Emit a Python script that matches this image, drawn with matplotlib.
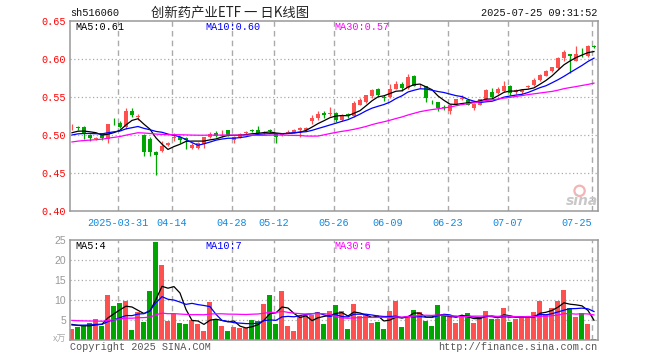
import numpy as np
import matplotlib
matplotlib.use('Agg')
import matplotlib.pyplot as plt

# ---------------- data ----------------
opens = [0.510, 0.510, 0.511, 0.500, 0.495, 0.502, 0.495, 0.515, 0.516, 0.511,
         0.531, 0.524, 0.500, 0.495, 0.478, 0.479, 0.487, 0.496, 0.497, 0.496,
         0.483, 0.483, 0.488, 0.497, 0.503, 0.499, 0.506, 0.493, 0.497, 0.502,
         0.506, 0.506, 0.502, 0.506, 0.501, 0.500, 0.503, 0.504, 0.506, 0.507,
         0.518, 0.522, 0.529, 0.528, 0.529, 0.520, 0.527, 0.525, 0.540, 0.543,
         0.551, 0.561, 0.550, 0.550, 0.561, 0.567, 0.562, 0.578, 0.564, 0.564,
         0.544, 0.543, 0.537, 0.531, 0.540, 0.548, 0.546, 0.535, 0.540, 0.547,
         0.557, 0.555, 0.558, 0.565, 0.556, 0.556, 0.563, 0.566, 0.572, 0.578,
         0.584, 0.588, 0.601, 0.606, 0.598, 0.607, 0.604, 0.617]
highs = [0.515, 0.512, 0.512, 0.501, 0.498, 0.503, 0.515, 0.523, 0.518, 0.535,
         0.535, 0.528, 0.501, 0.497, 0.479, 0.492, 0.491, 0.503, 0.498, 0.498,
         0.489, 0.491, 0.498, 0.504, 0.505, 0.507, 0.507, 0.499, 0.502, 0.505,
         0.508, 0.512, 0.505, 0.508, 0.503, 0.503, 0.506, 0.508, 0.510, 0.510,
         0.526, 0.531, 0.531, 0.537, 0.530, 0.527, 0.529, 0.545, 0.549, 0.553,
         0.560, 0.562, 0.552, 0.567, 0.571, 0.570, 0.580, 0.579, 0.567, 0.565,
         0.546, 0.544, 0.539, 0.541, 0.548, 0.552, 0.548, 0.542, 0.548, 0.561,
         0.562, 0.563, 0.571, 0.566, 0.560, 0.560, 0.566, 0.575, 0.580, 0.585,
         0.590, 0.602, 0.612, 0.607, 0.617, 0.615, 0.618, 0.618]
lows = [0.507, 0.506, 0.495, 0.492, 0.493, 0.494, 0.490, 0.513, 0.509, 0.508,
        0.524, 0.520, 0.472, 0.472, 0.447, 0.477, 0.485, 0.492, 0.490, 0.481,
        0.482, 0.482, 0.483, 0.496, 0.498, 0.498, 0.499, 0.490, 0.496, 0.501,
        0.504, 0.502, 0.501, 0.503, 0.490, 0.499, 0.502, 0.503, 0.497, 0.505,
        0.515, 0.520, 0.522, 0.525, 0.517, 0.519, 0.523, 0.524, 0.539, 0.542,
        0.549, 0.551, 0.545, 0.549, 0.560, 0.558, 0.561, 0.564, 0.562, 0.543,
        0.541, 0.531, 0.533, 0.527, 0.539, 0.546, 0.539, 0.533, 0.539, 0.546,
        0.549, 0.554, 0.557, 0.552, 0.554, 0.554, 0.562, 0.565, 0.571, 0.577,
        0.583, 0.587, 0.598, 0.581, 0.597, 0.603, 0.603, 0.614]
closes = [0.511, 0.509, 0.503, 0.496, 0.496, 0.496, 0.514, 0.514, 0.511, 0.531,
          0.526, 0.525, 0.478, 0.478, 0.474, 0.485, 0.490, 0.497, 0.493, 0.493,
          0.487, 0.490, 0.497, 0.501, 0.499, 0.500, 0.500, 0.498, 0.501, 0.504,
          0.505, 0.503, 0.503, 0.505, 0.497, 0.501, 0.504, 0.507, 0.509, 0.509,
          0.523, 0.527, 0.526, 0.529, 0.520, 0.526, 0.526, 0.542, 0.546, 0.552,
          0.559, 0.552, 0.549, 0.561, 0.567, 0.562, 0.576, 0.565, 0.565, 0.549,
          0.543, 0.535, 0.536, 0.540, 0.547, 0.549, 0.540, 0.541, 0.547, 0.559,
          0.550, 0.561, 0.564, 0.555, 0.559, 0.559, 0.564, 0.573, 0.579, 0.584,
          0.589, 0.601, 0.609, 0.604, 0.606, 0.606, 0.617, 0.616]
volumes = [2.75, 3.25, 3.4, 4.25, 5.25, 3.5, 11.25, 8.5, 9.25, 9.75,
           2.5, 7.1, 4.5, 12.25, 24.5, 18.75, 4.75, 6.5, 4.25, 4.0,
           5.0, 4.0, 2.25, 9.5, 5.2, 3.5, 2.25, 3.3, 3.1, 2.9,
           5.0, 4.75, 9.0, 11.25, 4.0, 12.25, 3.5, 2.25, 6.0, 6.25,
           6.25, 7.0, 4.0, 7.25, 8.75, 7.25, 2.75, 9.0, 6.0, 6.25,
           4.25, 4.5, 2.75, 7.25, 9.75, 3.25, 6.0, 7.5, 7.0, 4.8,
           3.5, 8.75, 6.5, 5.7, 4.25, 5.8, 6.75, 4.25, 5.7, 7.25,
           5.25, 5.3, 8.0, 4.5, 5.25, 5.7, 5.7, 7.0, 9.75, 6.5,
           8.0, 9.75, 12.5, 8.0, 5.7, 6.75, 4.0, 0.25]
# sessions before the visible window (only used so the moving averages start at the left edge)
pre_closes = [0.476, 0.479, 0.481, 0.478, 0.475, 0.477, 0.480, 0.479, 0.476, 0.478,
              0.477, 0.490, 0.495, 0.499, 0.497, 0.500, 0.498, 0.496, 0.499, 0.495,
              0.494, 0.498, 0.496, 0.499, 0.498, 0.499, 0.502, 0.501, 0.502]
pre_volumes = [5.5, 4.8, 5.2, 5.0, 5.6, 4.8, 3.6, 3.2, 3.8, 3.0,
               3.5, 3.5, 8.5, 7.0, 6.5, 9.0, 6.0, 7.5, 6.5, 7.0,
               3.8, 3.2, 4.0, 3.5, 3.5, 4.5, 3.9, 4.2, 4.15]
date_idx = [8, 17, 27, 34, 44, 53, 63, 73, 87]
date_labels = ['2025-03-31', '04-14', '04-28', '05-12', '05-26', '06-09', '06-23', '07-07', '07-25']
price_ticks = [0.40, 0.45, 0.50, 0.55, 0.60, 0.65]
vol_ticks = [5, 10, 15, 20, 25]
ma_periods = [5, 10, 30]
ma_colors = ['#000000', '#0000ff', '#ff00ff']

# ---------------- helpers ----------------
W, H = 660, 360
MONO = 'Liberation Mono'
CJK = ['Noto Sans CJK SC', 'DejaVu Sans']
RED = '#ff5050'
GREEN = '#00a600'
GRID = '#aaaaaa'


def rect(l, t, r, b):
    return [l / W, 1 - b / H, (r - l) / W, (b - t) / H]


def ftext(x, y, s, **kw):
    fig.text(x / W, 1 - y / H, s, **kw)


def moving_avg(pre, vals, n):
    full = np.array(list(pre) + list(vals), dtype=float)
    out = np.convolve(full, np.ones(n) / n, mode='valid')
    return out[len(pre) - n + 1:]


o = np.array(opens); h = np.array(highs); lo = np.array(lows); c = np.array(closes)
v = np.array(volumes)
x = np.arange(len(c))
up = c >= o
cols = np.where(up, RED, GREEN)

fig = plt.figure(figsize=(W / 100, H / 100), dpi=100)
fig.patch.set_facecolor('white')
axp = fig.add_axes(rect(70, 21, 598, 211))
axv = fig.add_axes(rect(70, 240, 598, 340))

xmin, xmax = -0.33, len(c) - 1 + 0.67
grid_x = [i - 0.3 for i in date_idx]

for ax in (axp, axv):
    ax.set_xlim(xmin, xmax)
    for s in ax.spines.values():
        s.set_color('#999999')
        s.set_linewidth(1.1)
    for gx in grid_x:
        ax.axvline(gx, color=GRID, lw=1.0, ls=(0, (4, 3)), zorder=0)

# ---- price panel ----
axp.set_ylim(0.40, 0.65)
for p in price_ticks[1:-1]:
    axp.axhline(p, color=GRID, lw=0.9, ls=(0, (1, 2)), zorder=0)
axp.vlines(x, lo, h, colors=cols, lw=0.9, zorder=2)
axp.bar(x, np.maximum(np.abs(c - o), 0.0009), bottom=np.minimum(o, c),
        width=0.8, color=cols, linewidth=0, zorder=3)
price_ma = []
for n, col in zip(ma_periods, ma_colors):
    m = moving_avg(pre_closes, closes, n)
    price_ma.append(m)
    axp.plot(x, m, color=col, lw=0.9, zorder=4)
axp.set_yticks(price_ticks)
axp.set_yticklabels(['%.2f' % t for t in price_ticks], family=MONO, fontsize=7.3, color='red')
axp.set_xticks(grid_x)
axp.set_xticklabels(date_labels, family=MONO, fontsize=7.3, color='#1188dd')
axp.get_xticklabels()[-1].set_ha('right')
axp.tick_params(axis='both', length=0)
axp.tick_params(axis='y', pad=3)
axp.tick_params(axis='x', pad=5)

# sina watermark
axp.scatter([84.6], [0.4265], s=55, facecolors='none', edgecolors='#f4b4b4', linewidths=1.6, zorder=1)
axp.text(85.0, 0.413, 'sina', fontsize=10, style='italic', weight='bold', color='#c8c8c8',
         ha='center', va='center', zorder=1)

# ---- volume panel ----
axv.set_ylim(0, 25)
for t in vol_ticks[:-1]:
    axv.axhline(t, color=GRID, lw=0.9, ls=(0, (1, 2)), zorder=0)
axv.bar(x, v, width=0.83, color=cols, linewidth=0, zorder=2)
vol_ma = []
for n, col in zip(ma_periods, ma_colors):
    m = moving_avg(pre_volumes, volumes, n)
    vol_ma.append(m)
    axv.plot(x, m, color=col, lw=0.9, zorder=4)
axv.set_yticks(vol_ticks)
axv.set_yticklabels([str(t) for t in vol_ticks], family='Liberation Sans', fontsize=7.5, color='#999999')
axv.set_xticks(grid_x)
axv.set_xticklabels([])
axv.tick_params(axis='both', length=0)
axv.tick_params(axis='y', pad=3)

# ---- texts ----
ftext(70, 13, 'sh516060', family=MONO, fontsize=7.4, color='#111111', va='center', ha='left')
ftext(230, 12.5, '创新药产业ETF 一 日K线图', family=CJK, fontsize=9.6, color='#222222', va='center', ha='center')
ftext(597, 13, '2025-07-25 09:31:52', family=MONO, fontsize=7.4, color='#111111', va='center', ha='right')

ma_x = [75, 205, 334]
for i, (n, col) in enumerate(zip(ma_periods, ma_colors)):
    ftext(ma_x[i], 26.5, 'MA%d:%.2f' % (n, price_ma[i][-1]), family=MONO, fontsize=7.3, color=col, va='center')
    ftext(ma_x[i], 246, 'MA%d:%d' % (n, int(vol_ma[i][-1])), family=MONO, fontsize=7.3, color=col, va='center')

ftext(66, 339, 'x万', family=CJK, fontsize=6.5, color='#aaaaaa', ha='right', va='center')
ftext(70, 347.5, 'Copyright 2025 SINA.COM', family=MONO, fontsize=7.3, color='#555555', va='center')
ftext(597, 347.5, 'http://finance.sina.com.cn', family=MONO, fontsize=7.3, color='#555555', va='center', ha='right')

fig.savefig('out.png', dpi=100, facecolor='white')
